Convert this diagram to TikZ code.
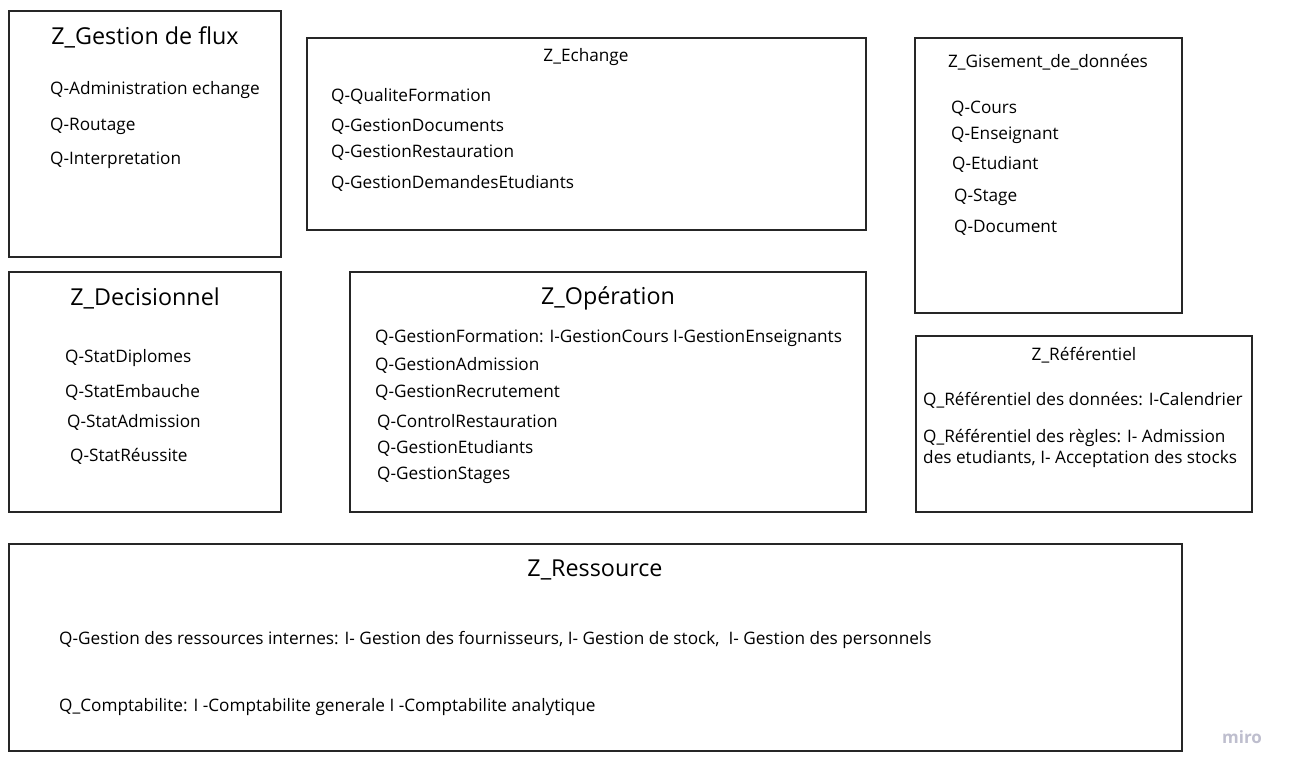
\documentclass[tikz,border=0pt]{standalone}
\usepackage{fontspec}
\setmainfont{Open Sans}
\usetikzlibrary{positioning}
\definecolor{logogray}{RGB}{190,190,206}

\begin{document}
\begin{tikzpicture}[x=1pt, y=-1pt,
    zone/.style={draw=black!85, line width=2pt, rectangle, inner sep=0pt},
    bigtitle/.style={font=\fontsize{23.3}{27}\selectfont, inner sep=0pt, yshift=-1.5pt},
    title/.style={font=\fontsize{17.2}{20}\selectfont, inner sep=0pt, yshift=-1.5pt},
    item/.style={font=\fontsize{17.2}{20}\selectfont, anchor=west, inner sep=0pt, align=left, yshift=-1.5pt}]
  \useasboundingbox[fill=white] (0,0) rectangle (1292,773);
  % les zones
  \node[zone, minimum width=272pt, minimum height=246pt] (flux) at (145,134) {};
  \node[zone, minimum width=559pt, minimum height=192pt] (echange) at (586.5,134) {};
  \node[zone, minimum width=267pt, minimum height=275pt] (gisement) at (1048.5,175.5) {};
  \node[zone, minimum width=272pt, minimum height=240pt] (decision) at (145,392) {};
  \node[zone, minimum width=516pt, minimum height=240pt] (operation) at (608,392) {};
  \node[zone, minimum width=336pt, minimum height=176pt] (referentiel) at (1084,424) {};
  \node[zone, minimum width=1173pt, minimum height=207pt] (ressource) at (595.5,647.5) {};
  % Z_Gestion de flux
  \node[bigtitle] (fluxT) at (145,36) {Z\_Gestion de flux};
  \node[item] (flux1) at (50,89) {Q-Administration echange};
  \node[item] (flux2) at (50,125) {Q-Routage};
  \node[item] (flux3) at (50,159) {Q-Interpretation};
  % Z_Echange
  \node[title] (echangeT) at (586,56) {Z\_Echange};
  \node[item] (ech1) at (331,95) {Q-QualiteFormation};
  \node[item] (ech2) at (331,125) {Q-GestionDocuments};
  \node[item] (ech3) at (331,151) {Q-GestionRestauration};
  \node[item] (ech4) at (331,182) {Q-GestionDemandesEtudiants};
  % Z_Gisement_de_données
  \node[title] (gisementT) at (1048,61) {Z\_Gisement\_de\_données};
  \node[item] (gis1) at (951,107) {Q-Cours};
  \node[item] (gis2) at (951,134) {Q-Enseignant};
  \node[item] (gis3) at (952,163) {Q-Etudiant};
  \node[item] (gis4) at (954,196) {Q-Stage};
  \node[item] (gis5) at (954,226) {Q-Document};
  % Z_Decisionnel
  \node[bigtitle] (decisionT) at (145,297) {Z\_Decisionnel};
  \node[item] (dec1) at (65,357) {Q-StatDiplomes};
  \node[item] (dec2) at (65,391) {Q-StatEmbauche};
  \node[item] (dec3) at (67,421) {Q-StatAdmission};
  \node[item] (dec4) at (70,455) {Q-StatRéussite};
  % Z_Opération
  \node[bigtitle] (operationT) at (608,297) {Z\_Opération};
  \node[item] (op1) at (375,337) {Q-GestionFormation: I-GestionCours I-GestionEnseignants};
  \node[item] (op2) at (375,364) {Q-GestionAdmission};
  \node[item] (op3) at (375,391) {Q-GestionRecrutement};
  \node[item] (op4) at (377,421) {Q-ControlRestauration};
  \node[item] (op5) at (377,447) {Q-GestionEtudiants};
  \node[item] (op6) at (377,474) {Q-GestionStages};
  % Z_Référentiel
  \node[title] (referentielT) at (1084,354) {Z\_Référentiel};
  \node[item] (ref1) at (923,399) {Q\_Référentiel des données: I-Calendrier};
  \node[item] (ref2) at (923,447) {Q\_Référentiel des règles: I- Admission\\[1pt]des etudiants, I- Acceptation des stocks};
  % Z_Ressource
  \node[bigtitle] (ressourceT) at (595,568) {Z\_Ressource};
  \node[item] (res1) at (59,638) {Q-Gestion des ressources internes: I- Gestion des fournisseurs, I- Gestion de stock,\ \ I- Gestion des personnels};
  \node[item] (res2) at (59,706) {Q\_Comptabilite: I -Comptabilite generale I -Comptabilite analytique};
  % logo
  \node[font=\fontsize{17}{20}\selectfont\bfseries, text=logogray, inner sep=0pt] (logo) at (1242,737) {miro};
\end{tikzpicture}
\end{document}
